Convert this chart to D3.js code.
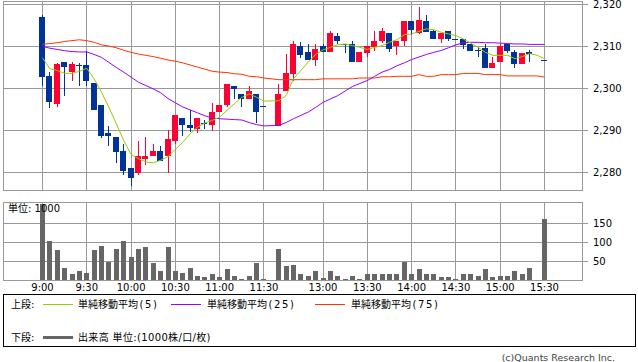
<!DOCTYPE html>
<html><head><meta charset="utf-8">
<script src="https://cdn.jsdelivr.net/npm/d3@7"></script>
<style>
body{margin:0;background:#fff}
svg{display:block}
text{font-family:"DejaVu Sans","Noto Sans CJK JP",sans-serif;fill:#000}
</style>
</head><body>
<svg id="c" width="638" height="362"></svg>
<script>
// ---- data ----
const times = ["9:00","9:05","9:10","9:15","9:20","9:25","9:30","9:35","9:40","9:45","9:50","9:55",
"10:00","10:05","10:10","10:15","10:20","10:25","10:30","10:35","10:40","10:45","10:50","10:55",
"11:00","11:05","11:10","11:15","11:20","11:25","11:30","",
"12:30","12:35","12:40","12:45","12:50","12:55",
"13:00","13:05","13:10","13:15","13:20","13:25","13:30","13:35","13:40","13:45","13:50","13:55",
"14:00","14:05","14:10","14:15","14:20","14:25","14:30","14:35","14:40","14:45","14:50","14:55",
"15:00","15:05","15:10","15:15","15:20","15:25","15:30"];

const open = [2317.0,2302.9,2296.2,2306.4,2303.9,2305.5,2305.5,2301.4,2296.0,2289.5,2288.4,2285.0,
2281.0,2279.8,2283.2,2283.9,2285.0,2283.9,2287.6,2292.9,2291.4,2290.3,2291.9,2291.2,
2294.3,2296.0,2300.5,2298.6,2297.6,2298.6,2295.9,null,
2291.0,2299.4,2303.4,2310.0,2308.6,2306.7,
2310.0,2308.8,2312.4,2310.5,2310.5,2306.3,2308.4,2309.8,2311.2,2313.1,2310.0,2311.3,
2316.0,2313.3,2316.0,2313.6,2311.7,2313.6,2311.7,2311.7,2310.5,2309.2,2309.6,2304.8,
2306.3,2310.5,2308.6,2305.8,2308.6,null,2306.8];

const high = [2317.6,2304.0,2306.0,2306.4,2306.4,2306.0,2309.0,2301.4,2296.0,2291.0,2288.4,2286.8,
2281.0,2287.4,2288.4,2286.8,2286.4,2290.0,2293.6,2292.9,2294.9,2292.9,2292.5,2296.5,
2296.0,2301.0,2300.5,2298.6,2300.5,2298.6,2295.9,null,
2301.0,2308.1,2311.4,2311.0,2310.5,2310.5,
2310.5,2313.6,2313.1,2310.5,2311.4,2308.6,2310.0,2313.6,2314.5,2313.1,2311.4,2316.0,
2316.0,2319.5,2317.6,2314.0,2313.1,2313.6,2311.9,2311.9,2310.5,2309.8,2310.5,2307.5,
2310.5,2310.5,2309.1,2308.5,2309.1,null,2306.8];

const low = [2300.7,2295.3,2295.7,2298.3,2301.7,2300.7,2300.7,2294.8,2288.2,2286.3,2282.2,2279.4,
2276.7,2279.4,2281.7,2283.9,2282.7,2279.8,2286.7,2288.8,2289.6,2289.4,2290.3,2289.8,
2294.3,2295.7,2297.6,2295.7,2297.6,2291.7,2295.9,null,
2291.0,2299.4,2301.9,2307.2,2306.7,2305.3,
2308.8,2308.8,2310.6,2308.4,2306.3,2306.3,2307.5,2308.9,2310.8,2308.7,2307.9,2310.0,
2312.8,2313.0,2313.4,2311.7,2310.8,2311.2,2311.5,2309.4,2308.9,2307.5,2304.8,2304.8,
2306.3,2308.4,2304.8,2305.8,2306.3,null,2306.8];

const close = [2302.7,2296.7,2305.9,2305.2,2305.9,2305.5,2301.7,2294.8,2288.8,2288.8,2284.8,2280.3,
2278.6,2284.0,2284.0,2285.0,2282.7,2287.9,2293.6,2291.2,2290.7,2292.9,2291.9,2294.5,
2296.0,2301.0,2299.8,2297.6,2299.5,2294.3,2295.9,null,
2298.6,2303.6,2310.5,2307.9,2306.7,2309.5,
2308.8,2313.1,2311.2,2310.5,2306.3,2308.6,2310.0,2311.4,2313.6,2309.4,2311.4,2316.0,
2313.9,2316.4,2313.4,2311.7,2313.1,2311.7,2311.7,2310.4,2308.9,2309.2,2304.8,2306.0,
2310.1,2308.9,2305.8,2308.5,2308.2,null,2306.8];

const volume = [202,103,79,34,16,24,21,79,92,48,84,105,
63,82,87,45,24,87,26,21,32,11,8,16,
8,29,13,5,13,45,3,null,
82,37,40,16,13,24,
7,24,13,4,11,5,16,18,16,16,18,48,
18,29,16,16,8,8,3,16,16,11,29,8,
11,13,24,18,32,null,163];

const ma5 = [2307.3,2304.7,2304.3,2303.6,2303.6,2304.1,2304.8,2302.3,2299.1,2295.5,2291.6,2287.6,
2284.3,2283.3,2282.5,2282.3,2282.9,2283.8,2285.5,2287.2,2289.2,2290.8,2291.8,2292.4,
2293.2,2294.8,2296.4,2297.9,2298.7,2297.9,2297.0,null,
2297.1,2298.3,2302.3,2304.3,2306.3,2308.1,
2309.2,2309.8,2310.4,2310.6,2310.2,2309.8,2309.3,2309.8,2310.2,2311.0,2311.6,2312.8,
2313.0,2313.6,2314.2,2314.0,2313.4,2313.0,2312.6,2311.8,2310.8,2309.8,2308.6,2307.9,
2307.9,2307.9,2307.1,2307.6,2308.3,2307.9,2307.1];

const ma25 = [2310.0,2309.6,2309.3,2309.0,2308.8,2308.7,2308.7,2308.1,2307.4,2306.2,2305.0,2303.9,
2302.7,2301.5,2300.7,2299.9,2299.0,2297.6,2296.6,2295.6,2294.9,2294.2,2293.5,2293.0,
2292.8,2292.7,2292.6,2292.5,2291.9,2291.4,2291.1,null,
2291.2,2291.9,2292.8,2293.6,2294.4,2295.5,
2296.7,2297.5,2298.3,2299.4,2300.5,2301.2,2301.9,2302.9,2303.9,2304.5,2305.4,2306.1,
2306.9,2307.5,2308.1,2308.6,2309.05,2309.7,2310.4,2310.9,2311.0,2311.0,2310.9,2310.9,
2310.8,2310.7,2310.6,2310.6,2310.5,2310.5,2310.5];

const ma75 = [2310.55,2310.7,2310.9,2311.2,2311.4,2311.6,2311.4,2311.0,2310.4,2310.1,2309.7,2309.1,
2308.6,2308.2,2307.9,2307.6,2307.2,2306.8,2306.5,2306.1,2305.6,2305.1,2304.6,2304.1,
2303.9,2303.8,2303.5,2303.4,2302.9,2302.8,2302.5,null,
2302.1,2302.1,2302.1,2302.1,2302.1,2302.1,
2302.3,2302.3,2302.3,2302.3,2302.3,2302.5,2302.5,2302.5,2302.8,2302.8,2302.9,2302.9,
2302.9,2303.3,2302.9,2302.9,2303.3,2303.3,2303.3,2303.6,2303.6,2303.6,2303.3,2303.3,
2303.3,2303.0,2303.0,2303.0,2303.0,2303.0,2302.7];

const xTickLabels = ["9:00","9:30","10:00","10:30","11:00","11:30","13:00","13:30","14:00","14:30","15:00","15:30"];
const priceTicks = [2280,2290,2300,2310,2320];
const volTicks = [50,100,150];

// ---- layout ----
const svg = d3.select("#c");
const L = 3.5, R = 582.5;
const P = {top:1.5, bottom:190.5};
const V = {top:202.5, bottom:280.5};
const GRID = "#999999";
const UP = "#ff0033", DOWN = "#003399";

const x = d3.scalePoint().domain(times).range([42.5, 544.5]);
const y = d3.scaleLinear().domain([2275.714, 2320.714]).range([P.bottom, P.top]);
const yv = d3.scaleLinear().domain([0, 205.26]).range([V.bottom, V.top]);
const px = t => Math.round(x(t) - 0.5) + 0.5;
const ry = v => Math.round(v - 0.5) + 0.5;

const defs = svg.append("defs");
defs.append("clipPath").attr("id","vclip")
  .append("rect").attr("x",L).attr("y",V.top).attr("width",R-L).attr("height",V.bottom-V.top);
defs.append("clipPath").attr("id","pclip")
  .append("rect").attr("x",L).attr("y",P.top).attr("width",R-L).attr("height",P.bottom-P.top);

// ---- price panel grid ----
const gp = svg.append("g").attr("shape-rendering","crispEdges");
gp.selectAll("line.h").data(priceTicks).join("line")
  .attr("x1",L).attr("x2",R+5).attr("y1",d=>ry(y(d))).attr("y2",d=>ry(y(d)))
  .attr("stroke",GRID);
gp.selectAll("line.v").data(xTickLabels).join("line")
  .attr("x1",d=>px(d)).attr("x2",d=>px(d)).attr("y1",P.top).attr("y2",P.bottom)
  .attr("stroke",GRID);
gp.append("rect").attr("x",L).attr("y",P.top).attr("width",R-L).attr("height",P.bottom-P.top)
  .attr("fill","none").attr("stroke",GRID);
svg.append("g").selectAll("text").data(priceTicks).join("text")
  .attr("x",593).attr("y",d=>y(d)).attr("dy","0.36em")
  .attr("font-size",10).text(d=>d3.format(",")(d));

// ---- candles ----
const idx = d3.range(times.length).filter(i => open[i] != null);
const gc = svg.append("g").attr("clip-path","url(#pclip)").attr("shape-rendering","crispEdges");
const col = i => close[i] > open[i] ? UP : DOWN;
gc.selectAll("line").data(idx).join("line")
  .attr("x1",i=>px(times[i])).attr("x2",i=>px(times[i]))
  .attr("y1",i=>y(high[i])).attr("y2",i=>y(low[i]))
  .attr("stroke",col);
gc.selectAll("rect").data(idx).join("rect")
  .attr("x",i=>px(times[i]) - 3.5).attr("width",6)
  .attr("y",i=>y(Math.max(open[i],close[i])))
  .attr("height",i=>Math.max(1, y(Math.min(open[i],close[i])) - y(Math.max(open[i],close[i]))))
  .attr("fill",col);

// ---- moving averages ----
const gl = svg.append("g").attr("clip-path","url(#pclip)");
[[ma75,"#ff3300"],[ma25,"#9900ff"],[ma5,"#99cc00"]].forEach(([arr,c])=>{
  const pts = d3.range(times.length).filter(i=>arr[i]!=null).map(i=>[x(times[i]), y(arr[i])]);
  gl.append("path").attr("d", d3.line()(pts)).attr("fill","none").attr("stroke",c).attr("stroke-width",1);
});

// ---- volume panel ----
const gv = svg.append("g").attr("shape-rendering","crispEdges");
gv.selectAll("line.h").data(volTicks).join("line")
  .attr("x1",L).attr("x2",R+5).attr("y1",d=>ry(yv(d))).attr("y2",d=>ry(yv(d)))
  .attr("stroke",GRID);
gv.selectAll("line.v").data(xTickLabels).join("line")
  .attr("x1",d=>px(d)).attr("x2",d=>px(d)).attr("y1",V.top).attr("y2",V.bottom)
  .attr("stroke",GRID);
const vidx = d3.range(times.length).filter(i=>volume[i]!=null);
gv.append("g").attr("clip-path","url(#vclip)").selectAll("rect").data(vidx).join("rect")
  .attr("x",i=>px(times[i]) - 2.5).attr("width",5)
  .attr("y",i=>yv(volume[i])).attr("height",i=>yv(0)-yv(volume[i]))
  .attr("fill","#666666");
gv.append("rect").attr("x",L).attr("y",V.top).attr("width",R-L).attr("height",V.bottom-V.top)
  .attr("fill","none").attr("stroke",GRID);
svg.append("g").selectAll("text").data(volTicks).join("text")
  .attr("x",593).attr("y",d=>yv(d)).attr("dy","0.36em")
  .attr("font-size",10).text(d=>d);
svg.append("text").attr("x",8).attr("y",212).attr("font-size",10).text("単位: 1000");

// x labels
svg.append("g").selectAll("text").data(xTickLabels).join("text")
  .attr("x",d=>x(d)).attr("y",291).attr("text-anchor","middle")
  .attr("font-size",10).text(d=>d);

// ---- legend ----
const lg = svg.append("g");
lg.append("rect").attr("x",3.5).attr("y",294.5).attr("width",632).attr("height",52)
  .attr("fill","#fff").attr("stroke","#000").attr("shape-rendering","crispEdges");
lg.append("text").attr("x",11).attr("y",308).attr("font-size",10).text("上段:");
const items = [["単純移動平均","(5)","#99cc00",43,78],["単純移動平均","(25)","#9900ff",171,207],["単純移動平均","(75)","#ff3300",315,351]];
items.forEach(([t,p,c,lx,tx])=>{
  lg.append("line").attr("x1",lx).attr("x2",lx+30).attr("y1",304.5).attr("y2",304.5)
    .attr("stroke",c).attr("shape-rendering","crispEdges");
  const te = lg.append("text").attr("x",tx).attr("y",308).attr("font-size",10);
  te.append("tspan").text(t);
  te.append("tspan").attr("dx",1.5).attr("letter-spacing",1.6).text(p);
});
lg.append("text").attr("x",11).attr("y",341).attr("font-size",10).text("下段:");
lg.append("line").attr("x1",43).attr("x2",73).attr("y1",337.5).attr("y2",337.5)
  .attr("stroke","#666666").attr("stroke-width",3).attr("shape-rendering","crispEdges");
lg.append("text").attr("x",78).attr("y",341).attr("font-size",10).attr("letter-spacing",0.35)
  .text("出来高 単位:(1000株/口/枚)");

svg.append("text").attr("x",615).attr("y",361).attr("text-anchor","end")
  .attr("font-size",9.5).style("fill","#444").text("(c)Quants Research Inc.");
</script>
</body></html>
